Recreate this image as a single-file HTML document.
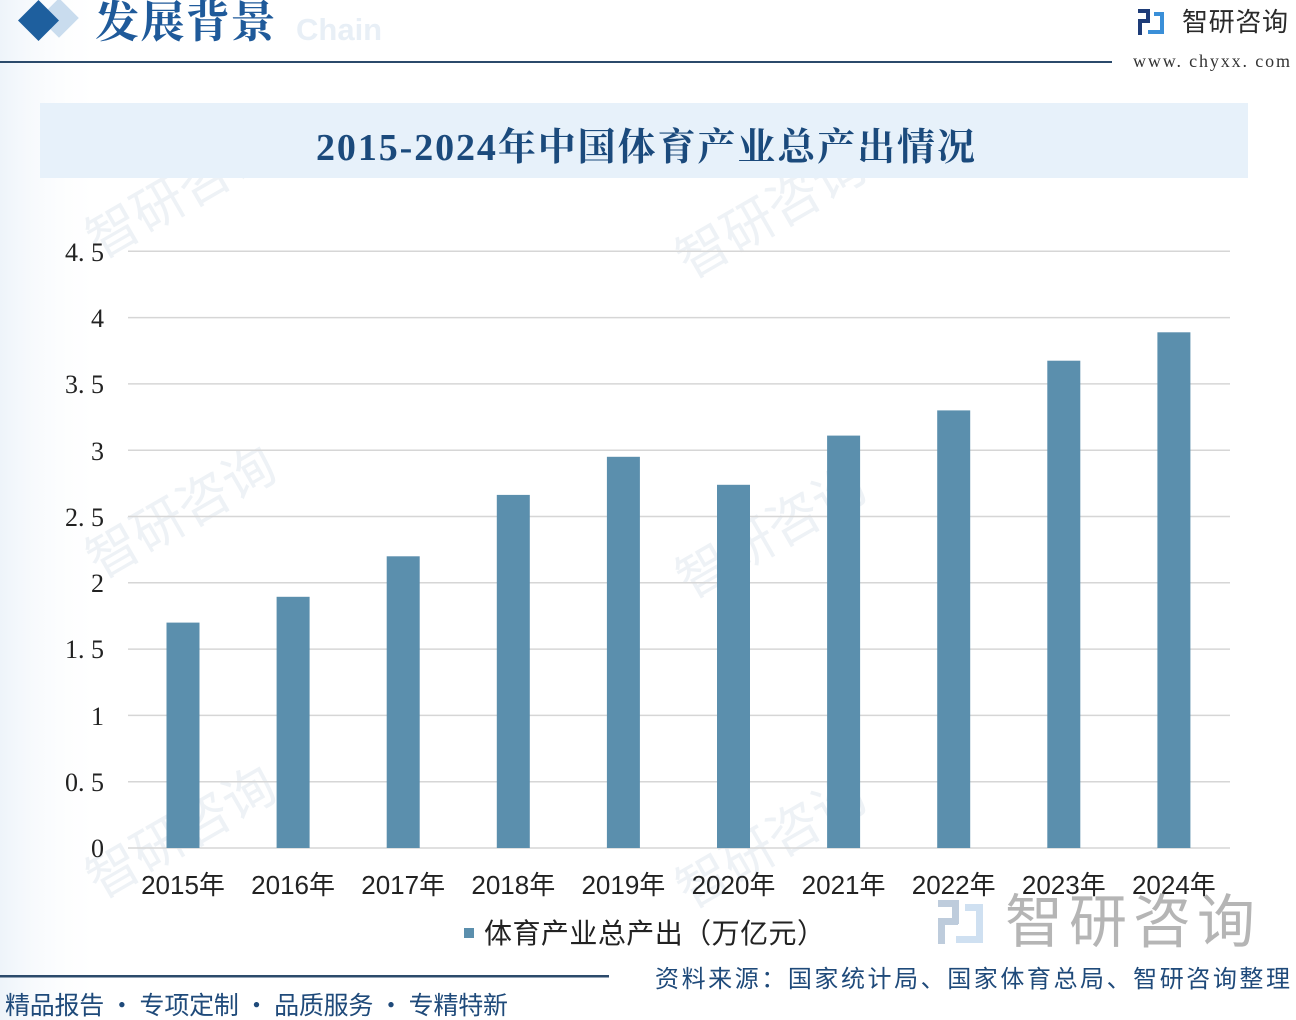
<!DOCTYPE html>
<html><head><meta charset="utf-8"><style>
html,body{margin:0;padding:0;background:#fff;}
svg{display:block;}
</style></head><body>
<svg width="1296" height="1020" viewBox="0 0 1296 1020" xmlns="http://www.w3.org/2000/svg">
<rect width="1296" height="1020" fill="#ffffff"/>
<defs>
<linearGradient id="lg" x1="0" x2="1" y1="0" y2="0">
<stop offset="0" stop-color="#eef4fa"/><stop offset="0.08" stop-color="#ffffff" stop-opacity="0"/>
</linearGradient>
</defs>
<rect width="1296" height="1020" fill="url(#lg)"/>
<!-- faint watermarks -->
<g font-family="'Noto Sans CJK SC',sans-serif" font-size="52" fill="#eef2f6">
<text x="100" y="260" transform="rotate(-30 100 260)">智研咨询</text>
<text x="690" y="280" transform="rotate(-30 690 280)">智研咨询</text>
<text x="100" y="580" transform="rotate(-30 100 580)">智研咨询</text>
<text x="690" y="600" transform="rotate(-30 690 600)">智研咨询</text>
<text x="100" y="900" transform="rotate(-30 100 900)">智研咨询</text>
<text x="690" y="910" transform="rotate(-30 690 910)">智研咨询</text>
</g>
<!-- header -->
<rect x="45" y="4" width="28" height="28" fill="#c9dcee" transform="rotate(45 59 18)"/>
<rect x="24" y="6" width="29" height="29" fill="#1e5f9e" transform="rotate(45 38.5 20.5)"/>
<text x="296" y="40" font-family="'Liberation Sans',sans-serif" font-weight="bold" font-size="31" fill="#e8eff6">Chain</text>
<text x="95" y="37" font-family="'Liberation Serif','Noto Serif CJK SC',serif" font-size="44" font-weight="bold" fill="#1f5a9a" textLength="180">发展背景</text>
<rect x="0" y="61" width="1112" height="2" fill="#2b4a6b"/>
<!-- top-right logo -->
<g>
<rect x="1138" y="9" width="12" height="4" fill="#1e3c78"/>
<rect x="1146" y="9" width="4" height="14" fill="#1e3c78"/>
<rect x="1138" y="19" width="12" height="4" fill="#1e3c78"/>
<rect x="1138" y="19" width="4" height="16" fill="#1e3c78"/>
<rect x="1154" y="12" width="10" height="4" fill="#3a8fd8"/>
<rect x="1160" y="12" width="4" height="22" fill="#3a8fd8"/>
<rect x="1148" y="30" width="16" height="4" fill="#3a8fd8"/>
</g>
<text x="1182" y="31" font-family="'Noto Sans CJK SC',sans-serif" font-size="26" fill="#2a2a2a" textLength="106">智研咨询</text>
<text x="1133" y="67" font-family="'Liberation Serif',serif" font-size="18" fill="#333" textLength="157">www. chyxx. com</text>
<!-- title banner -->
<rect x="40" y="103" width="1208" height="75" fill="#e7f1fa"/>
<text x="316" y="160" font-family="'Liberation Serif','Noto Serif CJK SC',serif" font-weight="bold" font-size="38" fill="#1b4a7c" textLength="659">2015-2024年中国体育产业总产出情况</text>
<!-- grid -->
<g stroke="#d6d6d6" stroke-width="1.5">
<line x1="128" x2="1230" y1="251.3" y2="251.3"/>
<line x1="128" x2="1230" y1="317.6" y2="317.6"/>
<line x1="128" x2="1230" y1="383.9" y2="383.9"/>
<line x1="128" x2="1230" y1="450.2" y2="450.2"/>
<line x1="128" x2="1230" y1="516.5" y2="516.5"/>
<line x1="128" x2="1230" y1="582.8" y2="582.8"/>
<line x1="128" x2="1230" y1="649.1" y2="649.1"/>
<line x1="128" x2="1230" y1="715.4" y2="715.4"/>
<line x1="128" x2="1230" y1="781.7" y2="781.7"/>
<line x1="128" x2="1230" y1="848" y2="848"/>
</g>
<!-- y labels -->
<g font-family="'Liberation Serif','Noto Serif CJK SC',serif" font-size="26" fill="#222" text-anchor="end">
<text x="104" y="261">4. 5</text>
<text x="104" y="327">4</text>
<text x="104" y="393">3. 5</text>
<text x="104" y="460">3</text>
<text x="104" y="526">2. 5</text>
<text x="104" y="592">2</text>
<text x="104" y="658">1. 5</text>
<text x="104" y="725">1</text>
<text x="104" y="791">0. 5</text>
<text x="104" y="857">0</text>
</g>
<!-- bars -->
<g fill="#5b8fad">
<rect x="166.5" y="622.6" width="33" height="225.4"/>
<rect x="276.6" y="596.8" width="33" height="251.2"/>
<rect x="386.7" y="556.3" width="33" height="291.7"/>
<rect x="496.8" y="494.9" width="33" height="353.1"/>
<rect x="606.9" y="456.8" width="33" height="391.2"/>
<rect x="717.0" y="484.8" width="33" height="363.2"/>
<rect x="827.1" y="435.6" width="33" height="412.4"/>
<rect x="937.2" y="410.4" width="33" height="437.6"/>
<rect x="1047.3" y="360.7" width="33" height="487.3"/>
<rect x="1157.4" y="332.3" width="33" height="515.7"/>
</g>
<!-- x labels -->
<g font-family="'Liberation Sans','Noto Sans CJK SC',sans-serif" font-size="26" fill="#222" text-anchor="middle">
<text x="183" y="894">2015年</text>
<text x="293.1" y="894">2016年</text>
<text x="403.2" y="894">2017年</text>
<text x="513.3" y="894">2018年</text>
<text x="623.4" y="894">2019年</text>
<text x="733.5" y="894">2020年</text>
<text x="843.6" y="894">2021年</text>
<text x="953.7" y="894">2022年</text>
<text x="1063.8" y="894">2023年</text>
<text x="1173.9" y="894">2024年</text>
</g>
<!-- legend -->
<rect x="464" y="928" width="10" height="10" fill="#5b8fad"/>
<text x="484" y="943" font-family="'Noto Sans CJK SC',sans-serif" font-size="28" fill="#222" textLength="341">体育产业总产出（万亿元）</text>
<!-- big watermark logo -->
<g opacity="0.55">
<rect x="938" y="900" width="20" height="7" fill="#8aa3c0"/>
<rect x="952" y="900" width="7" height="24" fill="#8aa3c0"/>
<rect x="938" y="918" width="20" height="7" fill="#8aa3c0"/>
<rect x="938" y="918" width="7" height="26" fill="#8aa3c0"/>
<rect x="965" y="904" width="18" height="7" fill="#a9c7e6"/>
<rect x="976" y="904" width="7" height="38" fill="#a9c7e6"/>
<rect x="956" y="936" width="27" height="7" fill="#a9c7e6"/>
</g>
<text x="1005" y="942" font-family="'Noto Sans CJK SC',sans-serif" font-size="58" fill="#b5b5b5" textLength="250">智研咨询</text>
<!-- footer -->
<rect x="0" y="975" width="609" height="2.5" fill="#2b4a6b"/>
<text x="5" y="1014" font-family="'Noto Sans CJK SC',sans-serif" font-size="25" fill="#1f4a7a" textLength="503">精品报告 · 专项定制 · 品质服务 · 专精特新</text>
<text x="655" y="987" font-family="'Noto Sans CJK SC',sans-serif" font-size="24" fill="#1f4a7a" textLength="635">资料来源：国家统计局、国家体育总局、智研咨询整理</text>
</svg>
</body></html>
